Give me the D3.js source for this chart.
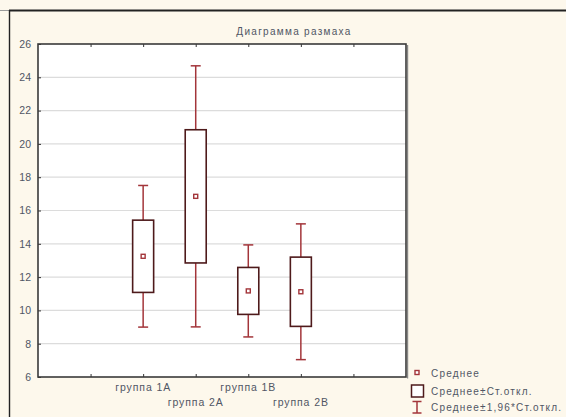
<!DOCTYPE html>
<html>
<head>
<meta charset="utf-8">
<script src="https://cdn.jsdelivr.net/npm/d3@7/dist/d3.min.js"></script>
<style>
  html, body { margin: 0; padding: 0; background: #fdf8ec; }
  svg { display: block; font-family: "Liberation Sans", Arial, sans-serif; }
</style>
</head>
<body>
<svg id="chart" width="566" height="417"></svg>
<script>
// Group names, their slot on the x axis, means and standard deviations
const groups = ["группа 1A", "группа 2A", "группа 1B", "группа 2B"];
const slots = [2, 3, 4, 5];
const means = [13.25, 16.85, 11.17, 11.12];
const sds = [2.17, 4.0, 1.41, 2.08];
const yTicks = [6, 8, 10, 12, 14, 16, 18, 20, 22, 24, 26];
const xTicks = [1, 2, 3, 4, 5, 6];
const legendLabels = ["Среднее", "Среднее±Ст.откл.", "Среднее±1,96*Ст.откл."];
const title = "Диаграмма размаха";

const svg = d3.select("#chart");
const W = 566, H = 417;
const plot = { left: 38, right: 406, top: 44, bottom: 377 };

const x = d3.scaleLinear().domain([0, 7]).range([plot.left, plot.right]);
const y = d3.scaleLinear().domain([6, 26]).range([plot.bottom, plot.top]);

const whiskerColor = "#a3353a";
const boxColor = "#4e1a1b";
const textColor = "#505664";

// window frame
svg.append("rect").attr("width", W).attr("height", H).attr("fill", "#fdf8ec");
svg.append("line").attr("x1", 0).attr("x2", 9).attr("y1", 10.5).attr("y2", 10.5)
  .attr("stroke", "#9a9a9a").attr("stroke-width", 1);
svg.append("line").attr("x1", 9).attr("x2", W).attr("y1", 10.5).attr("y2", 10.5)
  .attr("stroke", "#222").attr("stroke-width", 1.8);
svg.append("line").attr("x1", 9.5).attr("x2", 9.5).attr("y1", 10).attr("y2", H)
  .attr("stroke", "#222").attr("stroke-width", 1.4);

// title
svg.append("text").attr("x", 294).attr("y", 35).attr("text-anchor", "middle")
  .attr("font-size", 10).attr("fill", textColor).attr("letter-spacing", 1.3).text(title);

// plot area
svg.append("rect").attr("x", plot.left).attr("y", plot.top)
  .attr("width", plot.right - plot.left).attr("height", plot.bottom - plot.top)
  .attr("fill", "#fff");

// horizontal grid
svg.append("g").selectAll("line").data(yTicks.filter(t => t > 6 && t < 26)).join("line")
  .attr("x1", plot.left).attr("x2", plot.right)
  .attr("y1", d => y(d)).attr("y2", d => y(d))
  .attr("stroke", "#dcdcdc").attr("stroke-width", 1.2);

// y axis
const yAxis = d3.axisLeft(y).tickValues(yTicks).tickSize(-3).tickPadding(7).tickFormat(d3.format("d"));
const gy = svg.append("g").attr("transform", `translate(${plot.left},0)`).call(yAxis);
gy.select(".domain").remove();
gy.selectAll(".tick line").attr("stroke", "#333");
gy.selectAll(".tick text").attr("font-size", 10.5).attr("fill", textColor)
  .attr("font-family", "Liberation Sans, Arial, sans-serif");

// x ticks top and bottom (inward)
const xAxisB = d3.axisBottom(x).tickValues(xTicks).tickSize(-3).tickFormat("");
const gxb = svg.append("g").attr("transform", `translate(0,${plot.bottom})`).call(xAxisB);
gxb.select(".domain").remove();
gxb.selectAll(".tick line").attr("stroke", "#333");
const xAxisT = d3.axisTop(x).tickValues(xTicks).tickSize(-3).tickFormat("");
const gxt = svg.append("g").attr("transform", `translate(0,${plot.top})`).call(xAxisT);
gxt.select(".domain").remove();
gxt.selectAll(".tick line").attr("stroke", "#333");

// category labels, staggered on two rows
svg.append("g").selectAll("text").data(groups).join("text")
  .attr("x", (d, i) => x(slots[i]))
  .attr("y", (d, i) => i % 2 === 0 ? 391 : 406)
  .attr("text-anchor", "middle").attr("font-size", 10.5).attr("letter-spacing", 0.9)
  .attr("fill", textColor).text(d => d);

// plot frame
svg.append("rect").attr("x", plot.left).attr("y", plot.top)
  .attr("width", plot.right - plot.left).attr("height", plot.bottom - plot.top)
  .attr("fill", "none").attr("stroke", "#3a3a3a").attr("stroke-width", 1.6);
svg.append("line").attr("x1", plot.right + 1.6).attr("x2", plot.right + 1.6)
  .attr("y1", plot.top + 1).attr("y2", plot.bottom + 1.5)
  .attr("stroke", "#888").attr("stroke-width", 1.2);

// boxes and whiskers
const boxW = 21, capW = 10;
const g = svg.append("g");
groups.forEach((name, i) => {
  const cx = x(slots[i]);
  const m = means[i], s = sds[i];
  const lo1 = m - s, hi1 = m + s, lo2 = m - 1.96 * s, hi2 = m + 1.96 * s;
  const w = g.append("g").attr("stroke", whiskerColor).attr("stroke-width", 1.5);
  w.append("line").attr("x1", cx).attr("x2", cx).attr("y1", y(hi1)).attr("y2", y(hi2));
  w.append("line").attr("x1", cx).attr("x2", cx).attr("y1", y(lo1)).attr("y2", y(lo2));
  w.append("line").attr("x1", cx - capW / 2).attr("x2", cx + capW / 2).attr("y1", y(hi2)).attr("y2", y(hi2));
  w.append("line").attr("x1", cx - capW / 2).attr("x2", cx + capW / 2).attr("y1", y(lo2)).attr("y2", y(lo2));
  g.append("rect").attr("x", cx - boxW / 2).attr("y", y(hi1))
    .attr("width", boxW).attr("height", y(lo1) - y(hi1))
    .attr("fill", "#fff").attr("stroke", boxColor).attr("stroke-width", 1.6);
  g.append("rect").attr("x", cx - 2).attr("y", y(m) - 2).attr("width", 4).attr("height", 4)
    .attr("fill", "#fff").attr("stroke", whiskerColor).attr("stroke-width", 1.4);
});

// legend
const lg = svg.append("g");
const lx = 417, rows = [373, 391, 407];
lg.append("rect").attr("x", lx - 2).attr("y", rows[0] - 2.5).attr("width", 4).attr("height", 4)
  .attr("fill", "#fff").attr("stroke", whiskerColor).attr("stroke-width", 1.4);
lg.append("rect").attr("x", lx - 5.5).attr("y", rows[1] - 6).attr("width", 12).attr("height", 12)
  .attr("fill", "#fff").attr("stroke", boxColor).attr("stroke-width", 1.5);
const li = lg.append("g").attr("stroke", whiskerColor).attr("stroke-width", 1.5);
li.append("line").attr("x1", lx).attr("x2", lx).attr("y1", rows[2] - 5.5).attr("y2", rows[2] + 6);
li.append("line").attr("x1", lx - 4.5).attr("x2", lx + 4.5).attr("y1", rows[2] - 5.5).attr("y2", rows[2] - 5.5);
li.append("line").attr("x1", lx - 4.5).attr("x2", lx + 4.5).attr("y1", rows[2] + 6).attr("y2", rows[2] + 6);
lg.selectAll("text").data(legendLabels).join("text")
  .attr("x", 431).attr("y", (d, i) => rows[i] + 3.5)
  .attr("font-size", 10).attr("letter-spacing", 1.2).attr("fill", textColor).text(d => d);
</script>
</body>
</html>
